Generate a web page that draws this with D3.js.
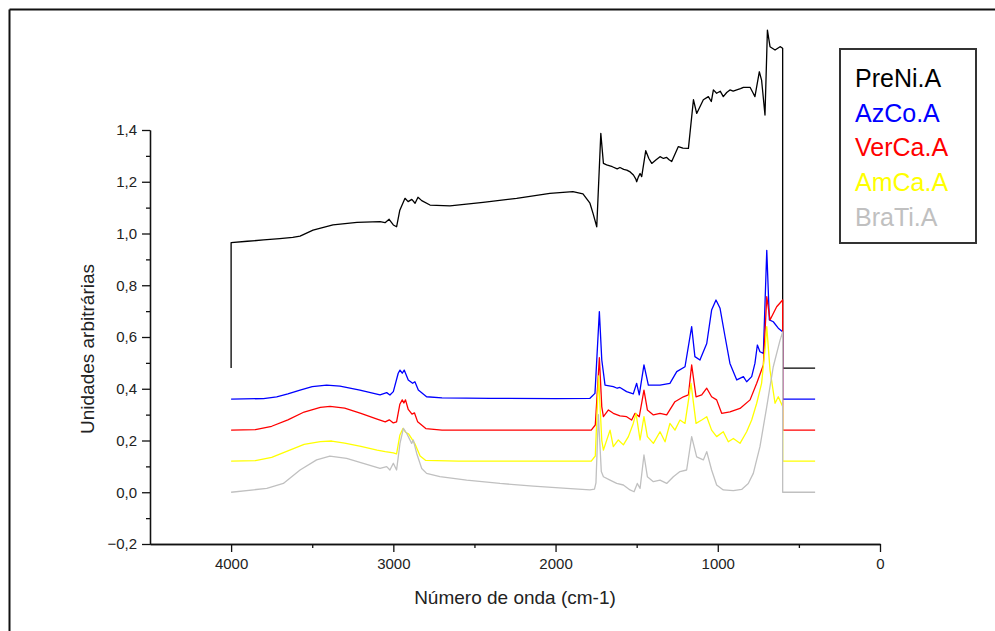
<!DOCTYPE html>
<html>
<head>
<meta charset="utf-8">
<script src="https://d3js.org/d3.v7.min.js"></script>
<style>
    body { margin: 0; background: #fff; }
    svg { display: block; font-family: "Liberation Sans", Arial, sans-serif; }
    .axis path, .axis line { stroke: #111; stroke-width: 1.3; }
    .axis text { fill: #222; font-size: 15px; }
</style>
</head>
<body>
<div class="chart-space"></div>
<script>
// spectra: [wavenumber cm-1, arbitrary units]
let preNi = [[4000,0.48],[4000,0.965],[3900,0.97],[3800,0.975],[3700,0.98],[3620,0.985],[3575,0.99],[3495,1.013],[3372,1.033],[3224,1.043],[3082,1.046],[3051,1.042],[3026,1.055],[3000,1.033],[2980,1.026],[2960,1.09],[2928,1.136],[2909,1.123],[2886,1.132],[2866,1.117],[2848,1.14],[2825,1.127],[2774,1.11],[2651,1.107],[2447,1.12],[2240,1.136],[2035,1.155],[1893,1.162],[1831,1.153],[1788,1.117],[1769,1.078],[1746,1.026],[1721,1.387],[1705,1.271],[1685,1.265],[1650,1.258],[1620,1.25],[1603,1.255],[1580,1.248],[1561,1.245],[1540,1.238],[1520,1.226],[1505,1.21],[1500,1.2],[1490,1.218],[1479,1.232],[1469,1.22],[1444,1.32],[1425,1.29],[1407,1.271],[1380,1.285],[1356,1.297],[1335,1.29],[1315,1.294],[1300,1.285],[1284,1.278],[1243,1.336],[1215,1.33],[1181,1.329],[1150,1.517],[1130,1.464],[1089,1.517],[1058,1.529],[1040,1.51],[1027,1.555],[1007,1.542],[985,1.55],[966,1.529],[945,1.545],[925,1.555],[905,1.55],[883,1.555],[860,1.56],[842,1.565],[801,1.565],[780,1.54],[771,1.529],[744,1.625],[730,1.593],[709,1.458],[694,1.786],[678,1.722],[647,1.709],[616,1.722],[600,1.716],[600,0.48],[400,0.48]];

let azCo = [[4000,0.36],[3800,0.362],[3719,0.369],[3650,0.38],[3575,0.395],[3500,0.408],[3411,0.414],[3329,0.41],[3206,0.395],[3082,0.376],[3041,0.385],[3021,0.376],[3000,0.389],[2970,0.46],[2959,0.472],[2945,0.46],[2933,0.472],[2908,0.434],[2881,0.421],[2867,0.427],[2846,0.395],[2795,0.369],[2700,0.365],[2400,0.363],[2000,0.362],[1788,0.363],[1757,0.382],[1730,0.698],[1715,0.511],[1695,0.414],[1644,0.408],[1620,0.402],[1603,0.405],[1562,0.389],[1521,0.38],[1500,0.421],[1484,0.376],[1455,0.492],[1428,0.414],[1356,0.414],[1295,0.421],[1253,0.466],[1202,0.485],[1161,0.64],[1141,0.524],[1110,0.511],[1068,0.575],[1038,0.704],[1011,0.743],[986,0.711],[955,0.601],[925,0.498],[883,0.434],[842,0.447],[822,0.427],[791,0.447],[771,0.498],[756,0.569],[740,0.543],[719,0.537],[698,0.935],[682,0.666],[658,0.659],[627,0.634],[600,0.62],[600,0.36],[400,0.36]];

let verCa = [[4000,0.24],[3850,0.242],[3750,0.255],[3650,0.28],[3550,0.31],[3450,0.328],[3390,0.332],[3300,0.325],[3200,0.305],[3100,0.283],[3050,0.272],[3025,0.28],[3000,0.268],[2980,0.272],[2960,0.34],[2945,0.357],[2935,0.345],[2925,0.357],[2908,0.32],[2885,0.302],[2870,0.307],[2850,0.272],[2800,0.246],[2700,0.24],[2200,0.24],[1780,0.24],[1755,0.26],[1730,0.52],[1715,0.33],[1705,0.292],[1674,0.318],[1644,0.305],[1603,0.295],[1562,0.292],[1531,0.279],[1510,0.305],[1484,0.292],[1455,0.395],[1434,0.318],[1397,0.299],[1356,0.305],[1315,0.299],[1264,0.35],[1212,0.369],[1181,0.376],[1161,0.492],[1134,0.369],[1099,0.376],[1068,0.402],[1038,0.369],[1007,0.357],[976,0.305],[925,0.311],[863,0.324],[801,0.357],[760,0.421],[719,0.492],[698,0.756],[678,0.666],[637,0.717],[600,0.743],[600,0.24],[400,0.24]];

let amCa = [[4000,0.12],[3850,0.122],[3750,0.135],[3650,0.16],[3550,0.185],[3450,0.196],[3380,0.198],[3300,0.19],[3200,0.177],[3100,0.163],[3050,0.157],[3000,0.152],[2980,0.148],[2960,0.22],[2940,0.247],[2925,0.232],[2905,0.225],[2885,0.205],[2865,0.185],[2835,0.14],[2800,0.123],[2600,0.12],[2000,0.12],[1780,0.12],[1755,0.14],[1735,0.45],[1715,0.2],[1705,0.163],[1664,0.24],[1644,0.176],[1613,0.202],[1582,0.183],[1551,0.215],[1521,0.266],[1504,0.305],[1479,0.202],[1455,0.292],[1434,0.215],[1397,0.189],[1356,0.234],[1325,0.195],[1295,0.266],[1264,0.24],[1233,0.279],[1202,0.266],[1165,0.421],[1134,0.266],[1099,0.279],[1068,0.292],[1038,0.24],[1007,0.215],[966,0.234],[935,0.195],[904,0.208],[863,0.189],[822,0.234],[791,0.279],[760,0.344],[730,0.421],[709,0.55],[698,0.64],[678,0.472],[647,0.344],[627,0.369],[600,0.331],[600,0.12],[400,0.12]];

let braTi = [[4000,0.0],[3780,0.015],[3678,0.034],[3575,0.086],[3473,0.125],[3391,0.14],[3288,0.131],[3185,0.112],[3082,0.092],[3041,0.099],[3021,0.086],[3000,0.112],[2980,0.086],[2959,0.189],[2938,0.247],[2918,0.228],[2887,0.189],[2877,0.202],[2856,0.15],[2825,0.092],[2795,0.073],[2713,0.06],[2548,0.047],[2343,0.034],[2137,0.024],[1931,0.015],[1788,0.009],[1760,0.012],[1751,0.036],[1736,0.3],[1718,0.08],[1705,0.06],[1664,0.047],[1623,0.034],[1582,0.028],[1541,0.009],[1516,0.002],[1496,0.034],[1479,0.015],[1455,0.144],[1434,0.06],[1397,0.041],[1356,0.047],[1315,0.034],[1274,0.06],[1233,0.08],[1192,0.086],[1161,0.215],[1130,0.137],[1089,0.125],[1068,0.157],[1038,0.086],[1007,0.028],[966,0.009],[904,0.006],[853,0.011],[812,0.034],[781,0.073],[740,0.176],[698,0.331],[658,0.485],[616,0.588],[600,0.62],[600,0.0],[400,0.0]];

let seriesNames = ["PreNi.A", "AzCo.A", "VerCa.A", "AmCa.A", "BraTi.A"];
let seriesColors = ["#000000", "#0000ff", "#ff0000", "#ffff00", "#c0c0c0"];
let seriesData = [preNi, azCo, verCa, amCa, braTi];

let xMajor = [4000, 3000, 2000, 1000, 0];
let xMinor = [3500, 2500, 1500, 500];
let yMajor = [-0.2, 0, 0.2, 0.4, 0.6, 0.8, 1.0, 1.2, 1.4];
let yMinor = [-0.1, 0.1, 0.3, 0.5, 0.7, 0.9, 1.1, 1.3];

let width = 995, height = 631;

var svg = d3.select(".chart-space").append("svg")
    .attr("width", width)
    .attr("height", height);

// image border (only top and left are in the picture)
svg.append("line").attr("x1", 9.5).attr("y1", 9.5).attr("x2", width).attr("y2", 9.5)
    .attr("stroke", "#111").attr("stroke-width", 2);
svg.append("line").attr("x1", 9.5).attr("y1", 9.5).attr("x2", 9.5).attr("y2", height)
    .attr("stroke", "#111").attr("stroke-width", 2);

// scales: wavenumber runs backwards
var x = d3.scaleLinear().domain([4500, 0]).range([150, 880]);
var y = d3.scaleLinear().domain([-0.2, 1.4]).range([544, 130]);

let commaFmt = function (d) {
    return d3.format(".1f")(d).replace(".", ",").replace("-", "-");
};

// x axis, major + minor
svg.append("g")
    .attr("class", "axis")
    .attr("transform", "translate(0," + y(-0.2) + ")")
    .call(d3.axisBottom(x).tickValues(xMajor).tickSize(8).tickSizeOuter(0).tickPadding(6).tickFormat(d3.format("d")));
svg.append("g")
    .attr("class", "axis")
    .attr("transform", "translate(0," + y(-0.2) + ")")
    .call(d3.axisBottom(x).tickValues(xMinor).tickSize(4).tickSizeOuter(0).tickFormat(""));

// y axis, major + minor
svg.append("g")
    .attr("class", "axis")
    .attr("transform", "translate(" + x(4500) + ",0)")
    .call(d3.axisLeft(y).tickValues(yMajor).tickSize(8).tickSizeOuter(0).tickPadding(5).tickFormat(commaFmt));
svg.append("g")
    .attr("class", "axis")
    .attr("transform", "translate(" + x(4500) + ",0)")
    .call(d3.axisLeft(y).tickValues(yMinor).tickSize(4).tickSizeOuter(0).tickFormat(""));

// axis titles
svg.append("text")
    .attr("x", (x(4500) + x(0)) / 2)
    .attr("y", 604)
    .attr("text-anchor", "middle")
    .attr("fill", "#222")
    .style("font-size", "19px")
    .text("Número de onda (cm-1)");

svg.append("text")
    .attr("transform", "translate(94,349) rotate(-90)")
    .attr("text-anchor", "middle")
    .attr("fill", "#222")
    .style("font-size", "19px")
    .text("Unidades arbitrárias");

// the spectra
var line = d3.line()
    .x(function (d) { return x(d[0]); })
    .y(function (d) { return y(d[1]); });

svg.selectAll(".spectrum")
    .data(seriesData)
    .enter()
    .append("path")
    .attr("class", "spectrum")
    .attr("fill", "none")
    .attr("stroke", function (d, i) { return seriesColors[i]; })
    .attr("stroke-width", 1.3)
    .attr("stroke-linejoin", "round")
    .attr("d", line);

// legend
let legend = svg.append("g");
legend.append("rect")
    .attr("x", 840).attr("y", 49)
    .attr("width", 136).attr("height", 194)
    .attr("fill", "#fff")
    .attr("stroke", "#333")
    .attr("stroke-width", 2);

legend.selectAll("text")
    .data(seriesNames)
    .enter()
    .append("text")
    .attr("x", 855)
    .attr("y", function (d, i) { return 87 + i * 34.7; })
    .attr("fill", function (d, i) { return seriesColors[i]; })
    .style("font-size", "25px")
    .text(function (d) { return d; });
</script>
</body>
</html>
